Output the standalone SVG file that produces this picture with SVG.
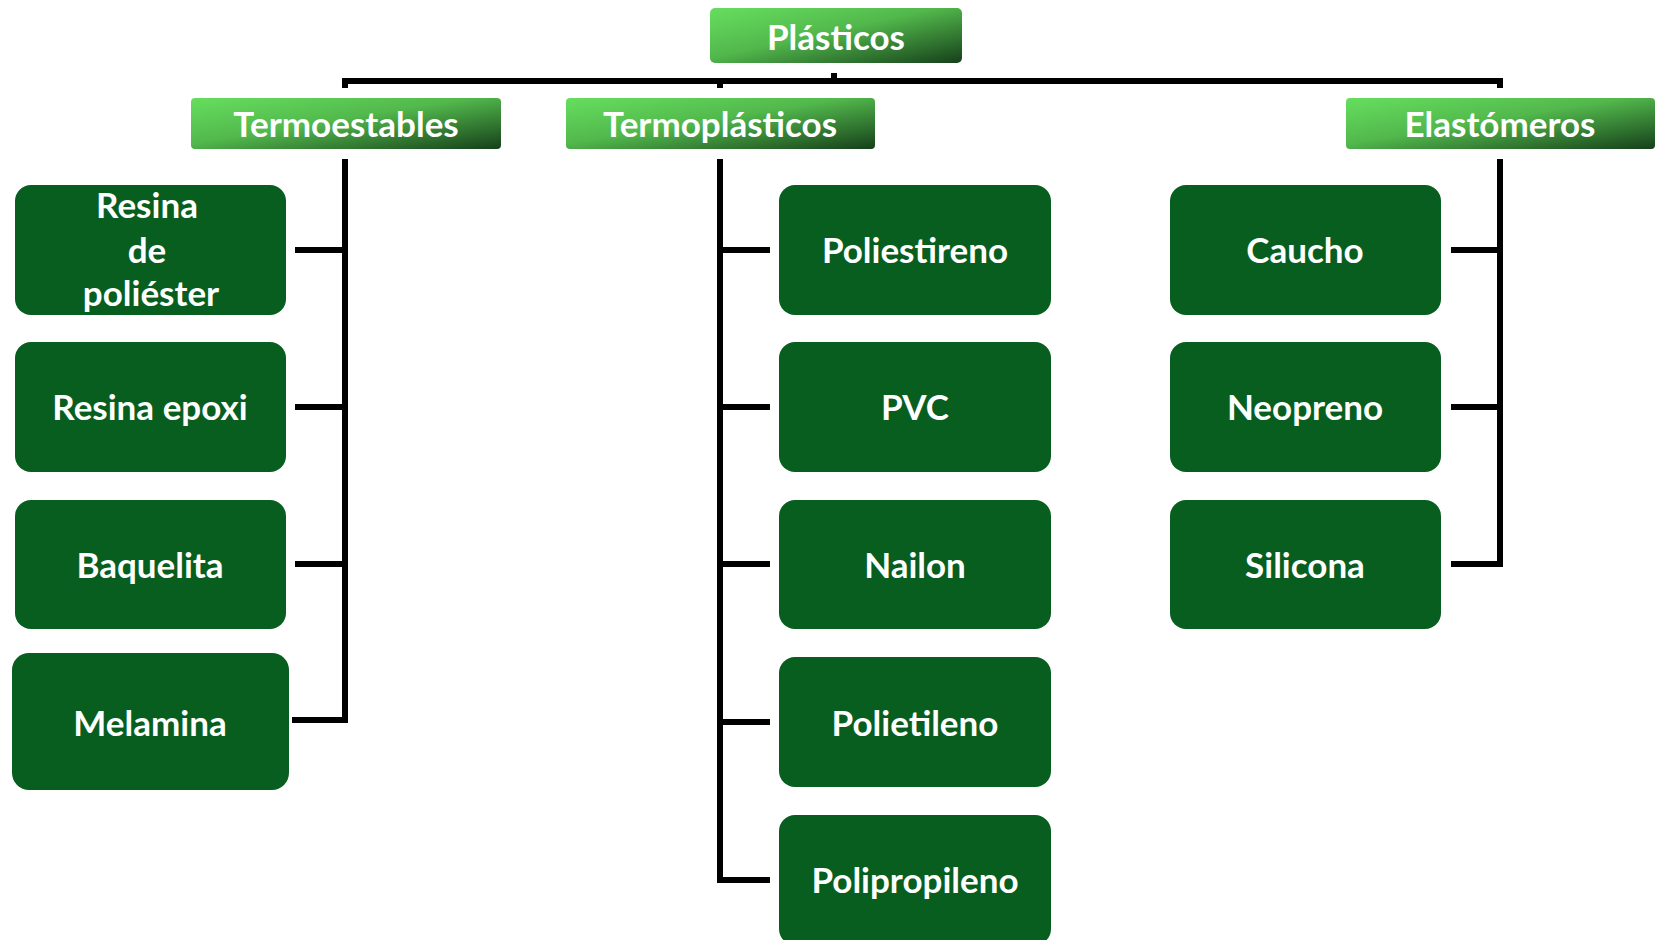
<svg xmlns="http://www.w3.org/2000/svg" width="1658" height="940" viewBox="0 0 1658 940">
  <defs>
    <linearGradient id="cat" x1="0" y1="0" x2="1" y2="1">
      <stop offset="0" stop-color="#66de5f"/>
      <stop offset="0.45" stop-color="#52b84c"/>
      <stop offset="1" stop-color="#16401a"/>
    </linearGradient>
    <style>
      .cat { fill: url(#cat); }
      .node { fill: #075e1f; }
      .t { font-family: Lato, "Liberation Sans", sans-serif; font-weight: bold; font-size: 35px; fill: #ffffff; text-anchor: middle; }
      .ln { fill: none; stroke: #000000; stroke-width: 6; stroke-linejoin: miter; stroke-linecap: butt; }
    </style>
  </defs>
  <rect width="1658" height="940" fill="#ffffff"/>

  <g id="connectors">
    <path class="ln" d="M345,88 V81 H1500 V88"/>
    <path class="ln" d="M834,73 V81"/>
    <path class="ln" d="M720,81 V88"/>
    <path class="ln" d="M345,159 V720"/>
    <path class="ln" d="M295,250 H345"/>
    <path class="ln" d="M295,407 H345"/>
    <path class="ln" d="M295,564 H345"/>
    <path class="ln" d="M292,720 H348"/>
    <path class="ln" d="M720,159 V883"/>
    <path class="ln" d="M717,250 H770"/>
    <path class="ln" d="M717,407 H770"/>
    <path class="ln" d="M717,564 H770"/>
    <path class="ln" d="M717,722 H770"/>
    <path class="ln" d="M717,880 H770"/>
    <path class="ln" d="M1500,159 V567"/>
    <path class="ln" d="M1451,250 H1503"/>
    <path class="ln" d="M1451,407 H1503"/>
    <path class="ln" d="M1451,564 H1503"/>
  </g>

  <g id="plasticos">
    <rect class="cat" x="710" y="8" width="252" height="55" rx="5"/>
    <text class="t" x="836" y="50">Plásticos</text>
  </g>
  <g id="termoestables">
    <rect class="cat" x="191" y="98" width="310" height="51" rx="4"/>
    <text class="t" x="346" y="137">Termoestables</text>
  </g>
  <g id="termoplasticos">
    <rect class="cat" x="566" y="98" width="309" height="51" rx="4"/>
    <text class="t" x="720" y="137">Termoplásticos</text>
  </g>
  <g id="elastomeros">
    <rect class="cat" x="1346" y="98" width="309" height="51" rx="4"/>
    <text class="t" x="1500" y="137">Elastómeros</text>
  </g>

  <g id="resina-poliester">
    <rect class="node" x="15" y="185" width="271" height="130" rx="16"/>
    <text class="t" x="147" y="218">Resina</text>
    <text class="t" x="147" y="263">de</text>
    <text class="t" x="151" y="306">poliéster</text>
  </g>
  <g id="resina-epoxi">
    <rect class="node" x="15" y="342" width="271" height="130" rx="16"/>
    <text class="t" x="150" y="420">Resina epoxi</text>
  </g>
  <g id="baquelita">
    <rect class="node" x="15" y="500" width="271" height="129" rx="16"/>
    <text class="t" x="150" y="578">Baquelita</text>
  </g>
  <g id="melamina">
    <rect class="node" x="12" y="653" width="277" height="137" rx="17"/>
    <text class="t" x="150" y="736">Melamina</text>
  </g>

  <g id="poliestireno">
    <rect class="node" x="779" y="185" width="272" height="130" rx="16"/>
    <text class="t" x="915" y="263">Poliestireno</text>
  </g>
  <g id="pvc">
    <rect class="node" x="779" y="342" width="272" height="130" rx="16"/>
    <text class="t" x="915" y="420">PVC</text>
  </g>
  <g id="nailon">
    <rect class="node" x="779" y="500" width="272" height="129" rx="16"/>
    <text class="t" x="915" y="578">Nailon</text>
  </g>
  <g id="polietileno">
    <rect class="node" x="779" y="657" width="272" height="130" rx="16"/>
    <text class="t" x="915" y="736">Polietileno</text>
  </g>
  <g id="polipropileno">
    <rect class="node" x="779" y="815" width="272" height="130" rx="16"/>
    <text class="t" x="915" y="893">Polipropileno</text>
  </g>

  <g id="caucho">
    <rect class="node" x="1170" y="185" width="271" height="130" rx="16"/>
    <text class="t" x="1305" y="263">Caucho</text>
  </g>
  <g id="neopreno">
    <rect class="node" x="1170" y="342" width="271" height="130" rx="16"/>
    <text class="t" x="1305" y="420">Neopreno</text>
  </g>
  <g id="silicona">
    <rect class="node" x="1170" y="500" width="271" height="129" rx="16"/>
    <text class="t" x="1305" y="578">Silicona</text>
  </g>
</svg>
